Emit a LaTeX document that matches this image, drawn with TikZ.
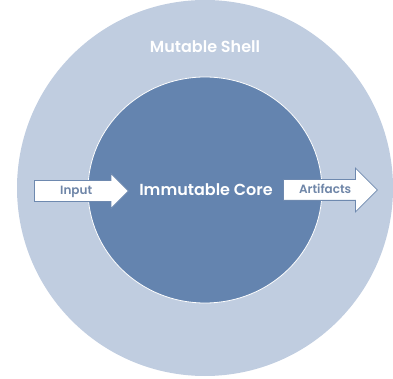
\documentclass[tikz,border=0pt]{standalone}
\usepackage{fontspec}
\setmainfont{Poppins}[UprightFont=* SemiBold]
\usetikzlibrary{shapes.arrows}

\definecolor{shellblue}{HTML}{C0CDE0}
\definecolor{coreblue}{HTML}{6484AF}
\definecolor{arrowline}{HTML}{6E89AF}
\definecolor{arrowtext}{HTML}{6F86A8}

\tikzset{
  flowarrow/.style={single arrow, draw=arrowline, fill=white, line width=0.8pt,
    anchor=west, minimum height=94pt, text height=9pt, text depth=2.5pt,
    inner ysep=4.25pt, inner xsep=4pt, single arrow tip angle=90,
    text=arrowtext, font=\fontsize{12}{14}\selectfont},
  ringlabel/.style={text=white, font=\fontsize{16}{18}\selectfont}
}

\begin{document}
\begin{tikzpicture}[x=1pt,y=-1pt]
  \useasboundingbox (0,0) rectangle (393,379);
  %Circles
  \fill[shellblue] (205,188) circle [radius=188];
  \draw[white, fill=coreblue, line width=0.8pt] (205,190) ellipse [x radius=117, y radius=113];

  \node[ringlabel] (Shell) at (205,47) {Mutable Shell};
  \node[ringlabel] (Core) at (206,190) {Immutable Core};

  %Arrows
  \node[flowarrow, single arrow head extend=7pt] (Input) at (34,191) {Input};
  \node[flowarrow, single arrow head extend=11.5pt] (Artifacts) at (283,190) {Artifacts};
\end{tikzpicture}
\end{document}
